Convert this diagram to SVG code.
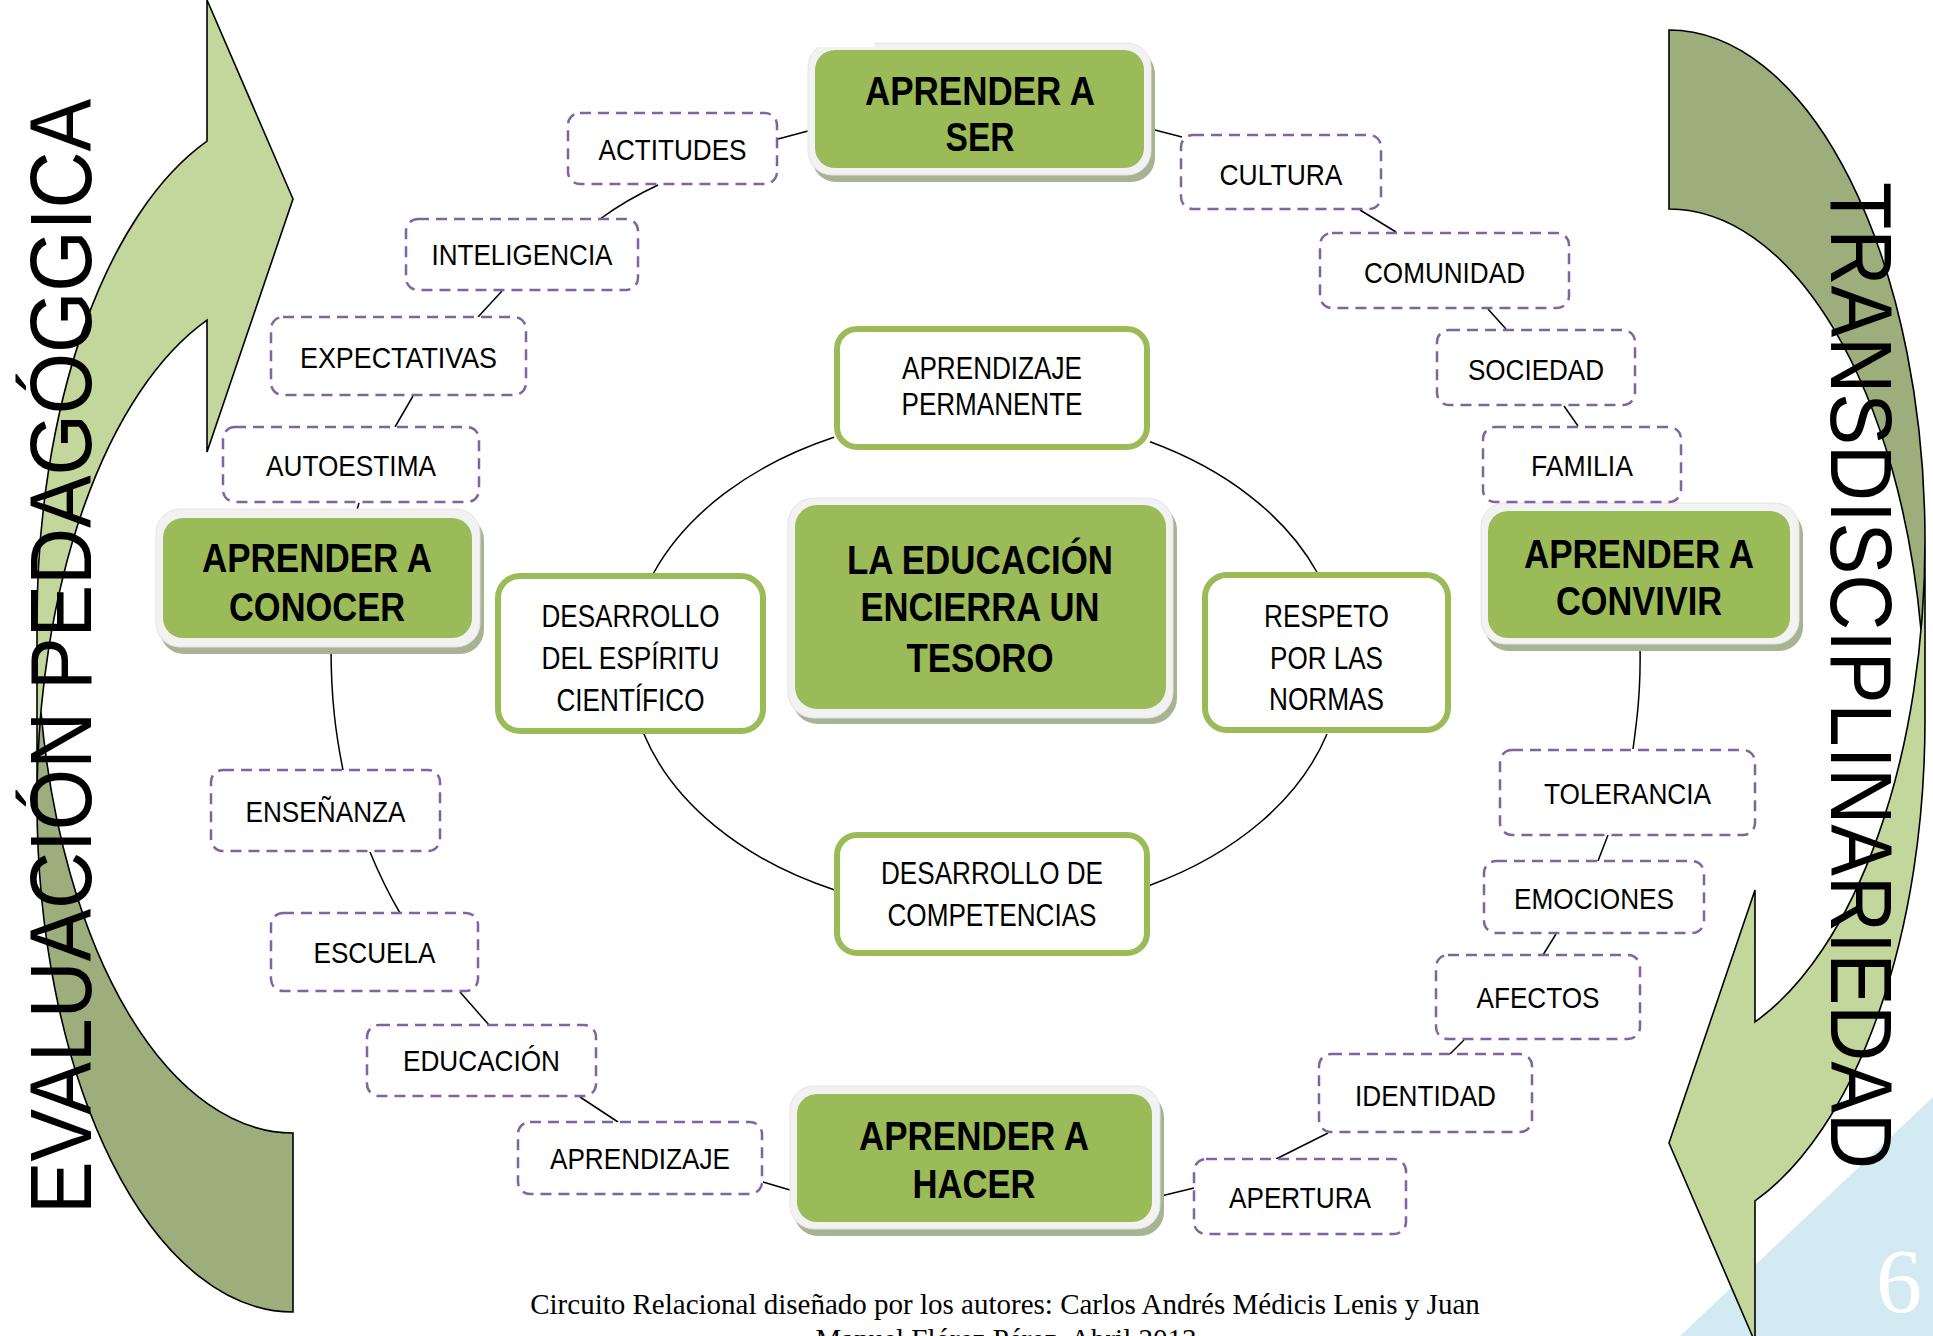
<svg xmlns="http://www.w3.org/2000/svg" width="1933" height="1336" viewBox="0 0 1933 1336">
<defs>
<style>
.lbl{font-family:"Liberation Sans",Arial,sans-serif;font-size:30px;text-anchor:middle;fill:#000}
.wl{font-size:31px}
.ttl{font-family:"Liberation Sans",Arial,sans-serif;font-size:40px;font-weight:bold;text-anchor:middle;fill:#000}
.dash{fill:#fff;stroke:#8064a2;stroke-width:2.5;stroke-dasharray:11 7}
.wnode{fill:#fff;stroke:#9bbb59;stroke-width:6}
.gsh{fill:#a7b393}
.gfr{fill:#f2f2f2;stroke:#e4e4e4;stroke-width:1}
.gin{fill:#9bbb59}
.conn{fill:none;stroke:#000;stroke-width:1.5}
.big{font-family:"Liberation Sans",Arial,sans-serif;font-size:88px;fill:#000}
.serif{font-family:"Liberation Serif","Times New Roman",serif;font-size:29px;fill:#000}
.alight{fill:#c3d69b;stroke:none}
.adark{fill:#9dad7c;stroke:none}
.aline{fill:none;stroke:#000;stroke-width:1.6;stroke-linejoin:miter}
</style>
<path id="arrowLight" d="M37,801.2 A256,510.8 0 0 1 207,320.1 L207,452 L293,199 L207,0 L207,141.1 A256,510.8 0 0 0 37,622.2 L37,801.2 A256,510.8 0 0 0 293,1312 L293,1133 A256,510.8 0 0 1 41,712 Z"/>
<path id="arrowDark" d="M293,1133 A256,510.8 0 0 1 41,712 A256,510.8 0 0 0 293,1312 Z"/>
<path id="arrowLine" d="M37,801.2 A256,510.8 0 0 1 207,320.1 L207,452 L293,199 L207,0 L207,141.1 A256,510.8 0 0 0 37,622.2 L37,801.2 A256,510.8 0 0 0 293,1312 L293,1133 A256,510.8 0 0 1 41,712"/>
</defs>
<rect x="0" y="0" width="1933" height="1336" fill="#fff"/>
<polygon points="1680,1336 1933,1097 1933,1336" fill="#d3eaf2"/>
<text x="1876" y="1312" font-family="Liberation Serif,serif" font-size="92" fill="#fff">6</text>

<g id="arrow-left">
<use href="#arrowLight" class="alight"/>
<use href="#arrowDark" class="adark"/>
<use href="#arrowLine" class="aline"/>
</g>
<g id="arrow-right" transform="rotate(180 981 671)">
<use href="#arrowLight" class="alight"/>
<use href="#arrowDark" class="adark"/>
<use href="#arrowLine" class="aline"/>
</g>
<text class="big" transform="translate(91,1214) rotate(-90)" textLength="1115" lengthAdjust="spacingAndGlyphs">EVALUACIÓN PEDAGÓGGICA</text>
<text class="big" transform="translate(1831,182) rotate(90)" textLength="987" lengthAdjust="spacingAndGlyphs">TRANSDISCIPLINARIEDAD</text>

<text class="serif" x="415" y="31">pedagógica. Fundación.</text>
<text class="serif" x="1005" y="1314" text-anchor="middle">Circuito Relacional diseñado por los autores: Carlos Andrés Médicis Lenis y Juan</text>
<text class="serif" x="1006" y="1349" text-anchor="middle">Manuel Flórez Pérez. Abril 2013</text>

<g id="connectors">
<path class="conn" d="M778,139 L808,131"/>
<path class="conn" d="M1151,129 L1182,137"/>
<path class="conn" d="M1360,210 L1396,232"/>
<path class="conn" d="M1488,309 L1506,329"/>
<path class="conn" d="M1564,406 L1578,426"/>
<path class="conn" d="M1640,644 C1641,690 1637,720 1633,749"/>
<path class="conn" d="M1608,835 L1598,861"/>
<path class="conn" d="M1556,934 L1543,955"/>
<path class="conn" d="M1464,1040 L1450,1054"/>
<path class="conn" d="M1328,1133 L1276,1159"/>
<path class="conn" d="M1194,1188 L1161,1196"/>
<path class="conn" d="M790,1190 L763,1182"/>
<path class="conn" d="M618,1122 L580,1097"/>
<path class="conn" d="M489,1025 L460,992"/>
<path class="conn" d="M400,913 Q384,886 370,852"/>
<path class="conn" d="M343,770 C336,735 331,700 331,647"/>
<path class="conn" d="M359,503 L357,510"/>
<path class="conn" d="M413,396 L395,427"/>
<path class="conn" d="M502,291 L478,317"/>
<path class="conn" d="M658,185 Q626,200 600,219"/>
<path class="conn" d="M653.6,573 A356,250 0 0 1 834,437.3"/>
<path class="conn" d="M1150,441.8 A356,250 0 0 1 1316.9,572"/>
<path class="conn" d="M1327,734 A356,250 0 0 1 1150,885.2"/>
<path class="conn" d="M834,889.7 A356,250 0 0 1 643.9,734"/>
</g>

<g id="n-ser">
<rect class="gsh" x="812" y="50" width="343" height="132" rx="24"/>
<rect class="gfr" x="808" y="43" width="343" height="132" rx="24"/>
<rect class="gin" x="815" y="50" width="329" height="118" rx="20"/>
<text class="ttl" x="980" y="105" textLength="230" lengthAdjust="spacingAndGlyphs">APRENDER A</text>
<text class="ttl" x="980" y="151" textLength="69" lengthAdjust="spacingAndGlyphs">SER</text>
</g>
<rect x="330" y="0" width="544" height="47" fill="#fff"/>

<g id="n-conocer">
<rect class="gsh" x="160" y="516" width="324" height="138" rx="24"/>
<rect class="gfr" x="156" y="509" width="324" height="138" rx="24"/>
<rect class="gin" x="163" y="518" width="309" height="120" rx="20"/>
<text class="ttl" x="317" y="572" textLength="230" lengthAdjust="spacingAndGlyphs">APRENDER A</text>
<text class="ttl" x="317" y="621" textLength="176" lengthAdjust="spacingAndGlyphs">CONOCER</text>
</g>

<g id="n-convivir">
<rect class="gsh" x="1485" y="510" width="318" height="141" rx="24"/>
<rect class="gfr" x="1481" y="503" width="318" height="141" rx="24"/>
<rect class="gin" x="1488" y="511" width="302" height="127" rx="20"/>
<text class="ttl" x="1639" y="568" textLength="230" lengthAdjust="spacingAndGlyphs">APRENDER A</text>
<text class="ttl" x="1639" y="615" textLength="166" lengthAdjust="spacingAndGlyphs">CONVIVIR</text>
</g>

<g id="n-hacer">
<rect class="gsh" x="794" y="1093" width="370" height="143" rx="24"/>
<rect class="gfr" x="790" y="1086" width="370" height="143" rx="24"/>
<rect class="gin" x="797" y="1094" width="355" height="128" rx="20"/>
<text class="ttl" x="974" y="1150" textLength="230" lengthAdjust="spacingAndGlyphs">APRENDER A</text>
<text class="ttl" x="974" y="1198" textLength="123" lengthAdjust="spacingAndGlyphs">HACER</text>
</g>

<g id="n-centro">
<rect class="gsh" x="792" y="504" width="385" height="220" rx="26"/>
<rect class="gfr" x="788" y="498" width="385" height="220" rx="26"/>
<rect class="gin" x="795" y="505" width="371" height="204" rx="22"/>
<text class="ttl" x="980" y="574" textLength="266" lengthAdjust="spacingAndGlyphs">LA EDUCACIÓN</text>
<text class="ttl" x="980" y="621" textLength="239" lengthAdjust="spacingAndGlyphs">ENCIERRA UN</text>
<text class="ttl" x="980" y="672" textLength="147" lengthAdjust="spacingAndGlyphs">TESORO</text>
</g>

<g id="n-permanente">
<rect class="wnode" x="837" y="329" width="310" height="118" rx="20"/>
<text class="lbl wl" x="992" y="379" textLength="180" lengthAdjust="spacingAndGlyphs">APRENDIZAJE</text>
<text class="lbl wl" x="992" y="415" textLength="181" lengthAdjust="spacingAndGlyphs">PERMANENTE</text>
</g>
<g id="n-cientifico">
<rect class="wnode" x="498" y="576" width="265" height="155" rx="22"/>
<text class="lbl wl" x="630.5" y="627" textLength="178" lengthAdjust="spacingAndGlyphs">DESARROLLO</text>
<text class="lbl wl" x="630.5" y="669" textLength="178" lengthAdjust="spacingAndGlyphs">DEL ESPÍRITU</text>
<text class="lbl wl" x="630.5" y="711" textLength="148" lengthAdjust="spacingAndGlyphs">CIENTÍFICO</text>
</g>
<g id="n-normas">
<rect class="wnode" x="1205" y="575" width="243" height="155" rx="22"/>
<text class="lbl wl" x="1326.5" y="627" textLength="125" lengthAdjust="spacingAndGlyphs">RESPETO</text>
<text class="lbl wl" x="1326.5" y="669" textLength="113" lengthAdjust="spacingAndGlyphs">POR LAS</text>
<text class="lbl wl" x="1326.5" y="710" textLength="115" lengthAdjust="spacingAndGlyphs">NORMAS</text>
</g>
<g id="n-competencias">
<rect class="wnode" x="837" y="835" width="310" height="118" rx="20"/>
<text class="lbl wl" x="992" y="884" textLength="222" lengthAdjust="spacingAndGlyphs">DESARROLLO DE</text>
<text class="lbl wl" x="992" y="926" textLength="209" lengthAdjust="spacingAndGlyphs">COMPETENCIAS</text>
</g>

<g id="n-actitudes"><rect class="dash" x="568" y="113" width="209" height="71" rx="12"/><text class="lbl" x="672.5" y="160" textLength="148" lengthAdjust="spacingAndGlyphs">ACTITUDES</text></g>
<g id="n-inteligencia"><rect class="dash" x="406" y="219" width="232" height="71" rx="12"/><text class="lbl" x="522" y="265" textLength="181" lengthAdjust="spacingAndGlyphs">INTELIGENCIA</text></g>
<g id="n-expectativas"><rect class="dash" x="271" y="317" width="255" height="78" rx="12"/><text class="lbl" x="398.5" y="367.5" textLength="197" lengthAdjust="spacingAndGlyphs">EXPECTATIVAS</text></g>
<g id="n-autoestima"><rect class="dash" x="223" y="427" width="256" height="75" rx="12"/><text class="lbl" x="351" y="475.5" textLength="170" lengthAdjust="spacingAndGlyphs">AUTOESTIMA</text></g>
<g id="n-cultura"><rect class="dash" x="1181" y="135" width="200" height="74" rx="12"/><text class="lbl" x="1281" y="185" textLength="123" lengthAdjust="spacingAndGlyphs">CULTURA</text></g>
<g id="n-comunidad"><rect class="dash" x="1320" y="233" width="249" height="75" rx="12"/><text class="lbl" x="1444.5" y="283" textLength="161" lengthAdjust="spacingAndGlyphs">COMUNIDAD</text></g>
<g id="n-sociedad"><rect class="dash" x="1437" y="330" width="198" height="75" rx="12"/><text class="lbl" x="1536" y="380" textLength="136" lengthAdjust="spacingAndGlyphs">SOCIEDAD</text></g>
<g id="n-familia"><rect class="dash" x="1483" y="427" width="198" height="75" rx="12"/><text class="lbl" x="1582" y="476" textLength="102" lengthAdjust="spacingAndGlyphs">FAMILIA</text></g>
<g id="n-ensenanza"><rect class="dash" x="211" y="770" width="229" height="81" rx="12"/><text class="lbl" x="325.5" y="822" textLength="160" lengthAdjust="spacingAndGlyphs">ENSEÑANZA</text></g>
<g id="n-escuela"><rect class="dash" x="271" y="913" width="207" height="78" rx="12"/><text class="lbl" x="374.5" y="963" textLength="122" lengthAdjust="spacingAndGlyphs">ESCUELA</text></g>
<g id="n-educacion"><rect class="dash" x="367" y="1025" width="229" height="71" rx="12"/><text class="lbl" x="481.5" y="1070.5" textLength="157" lengthAdjust="spacingAndGlyphs">EDUCACIÓN</text></g>
<g id="n-aprendizaje"><rect class="dash" x="518" y="1122" width="244" height="72" rx="12"/><text class="lbl" x="640" y="1169" textLength="180" lengthAdjust="spacingAndGlyphs">APRENDIZAJE</text></g>
<g id="n-tolerancia"><rect class="dash" x="1500" y="750" width="255" height="85" rx="12"/><text class="lbl" x="1627.5" y="804" textLength="167" lengthAdjust="spacingAndGlyphs">TOLERANCIA</text></g>
<g id="n-emociones"><rect class="dash" x="1484" y="861" width="220" height="72" rx="12"/><text class="lbl" x="1594" y="908.5" textLength="160" lengthAdjust="spacingAndGlyphs">EMOCIONES</text></g>
<g id="n-afectos"><rect class="dash" x="1436" y="955" width="204" height="84" rx="12"/><text class="lbl" x="1538" y="1007.5" textLength="123" lengthAdjust="spacingAndGlyphs">AFECTOS</text></g>
<g id="n-identidad"><rect class="dash" x="1319" y="1054" width="213" height="78" rx="12"/><text class="lbl" x="1425.5" y="1106" textLength="141" lengthAdjust="spacingAndGlyphs">IDENTIDAD</text></g>
<g id="n-apertura"><rect class="dash" x="1194" y="1159" width="212" height="75" rx="12"/><text class="lbl" x="1300" y="1208" textLength="142" lengthAdjust="spacingAndGlyphs">APERTURA</text></g>
</svg>
